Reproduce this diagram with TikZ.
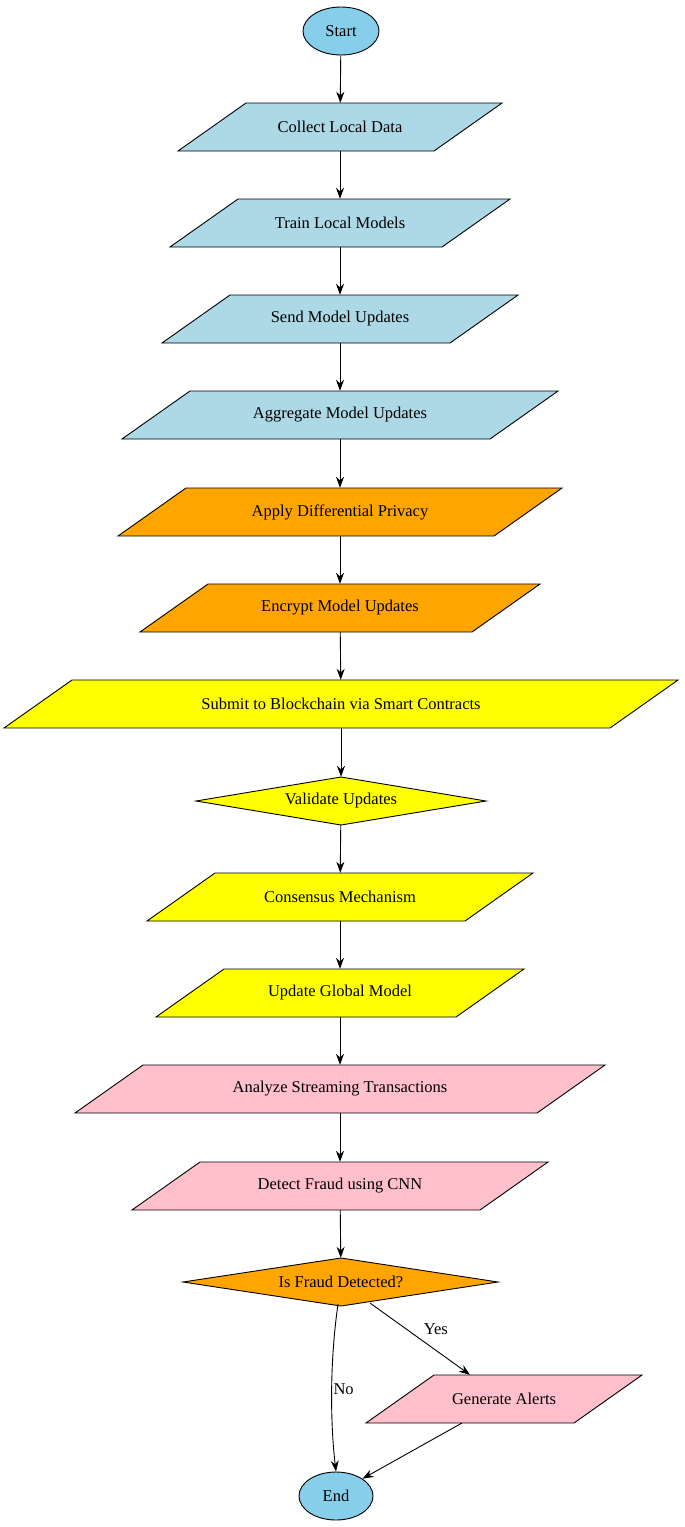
\documentclass[tikz,border=0pt]{standalone}
\usepackage{fontspec}
\setmainfont{Liberation Serif}
\usetikzlibrary{arrows.meta,shapes.geometric}
\definecolor{lb}{HTML}{ADD8E6}
\definecolor{sky}{HTML}{87CEEB}
\definecolor{org}{HTML}{FFA500}
\definecolor{yel}{HTML}{FFFF00}
\definecolor{pnk}{HTML}{FFC0CB}
\newcommand\pgram[6]{%
\draw[fill=#5,line width=0.9pt] ({#2-#4+34},{#3-24}) -- ({#2+#4+34},{#3-24}) -- ({#2+#4-34},{#3+24}) -- ({#2-#4-34},{#3+24}) -- cycle;
\node[inner sep=0,minimum width={2*#4},minimum height=48] (#1) at (#2,#3) {#6};}
\begin{document}
\begin{tikzpicture}[x=1pt,y=-1pt,font=\fontsize{16.5}{19}\selectfont,
 arr/.style={-{Stealth[length=11pt,width=8pt]},line width=0.9pt},
 oval/.style={ellipse,draw,line width=0.9pt,fill=sky,minimum width=76,minimum height=48,inner sep=0},
 dia/.style={diamond,draw,line width=0.9pt,aspect=6,inner sep=0}]
\useasboundingbox (0,0) rectangle (685,1527);
\node[oval] (start) at (341,31) {Start};
\pgram{n1}{340}{127}{128}{lb}{Collect Local Data}
\pgram{n2}{340}{223}{136}{lb}{Train Local Models}
\pgram{n3}{340}{319}{144}{lb}{Send Model Updates}
\pgram{n4}{340}{415}{184}{lb}{Aggregate Model Updates}
\pgram{n5}{340}{512}{188}{org}{Apply Differential Privacy}
\pgram{n6}{340}{608}{166}{org}{Encrypt Model Updates}
\pgram{n7}{341}{704}{303}{yel}{Submit to Blockchain via Smart Contracts}
\draw[fill=yel,line width=0.9pt] (196,801) -- (341,777) -- (486,801) -- (341,825) -- cycle;
\node[inner sep=0,minimum width=290,minimum height=48] (n8) at (341,801) {Validate Updates};
\pgram{n9}{340}{897}{159}{yel}{Consensus Mechanism}
\pgram{n10}{340}{993}{150}{yel}{Update Global Model}
\pgram{n11}{340}{1089}{231}{pnk}{Analyze Streaming Transactions}
\pgram{n12}{340}{1186}{174}{pnk}{Detect Fraud using CNN}
\draw[fill=org,line width=0.9pt] (183,1282) -- (341,1258) -- (498,1282) -- (341,1306) -- cycle;
\node[inner sep=0,minimum width=314,minimum height=48] (n13) at (341,1282) {Is Fraud Detected?};
\pgram{n14}{504}{1399}{104}{pnk}{Generate Alerts}
\node[oval,minimum width=74] (end) at (336,1496) {End};
\foreach \a/\b in {start/n1,n1/n2,n2/n3,n3/n4,n4/n5,n5/n6,n6/n7,n7/n8,n8/n9,n9/n10,n10/n11,n11/n12,n12/n13}
  \draw[arr] (\a) -- (\b);
\coordinate (a1) at (338,1304);
\coordinate (a2) at (370,1303);
\coordinate (a3) at (462,1423);
\draw[arr] (a1) .. controls (330,1360) and (330,1420) .. (end.north) node[pos=0.5,right,xshift=-2pt] {No};
\draw[arr] (a2) -- (n14.north -| 470,0) node[midway,above right] {Yes};
\draw[arr] (a3) -- (end.north east);
\end{tikzpicture}
\end{document}
